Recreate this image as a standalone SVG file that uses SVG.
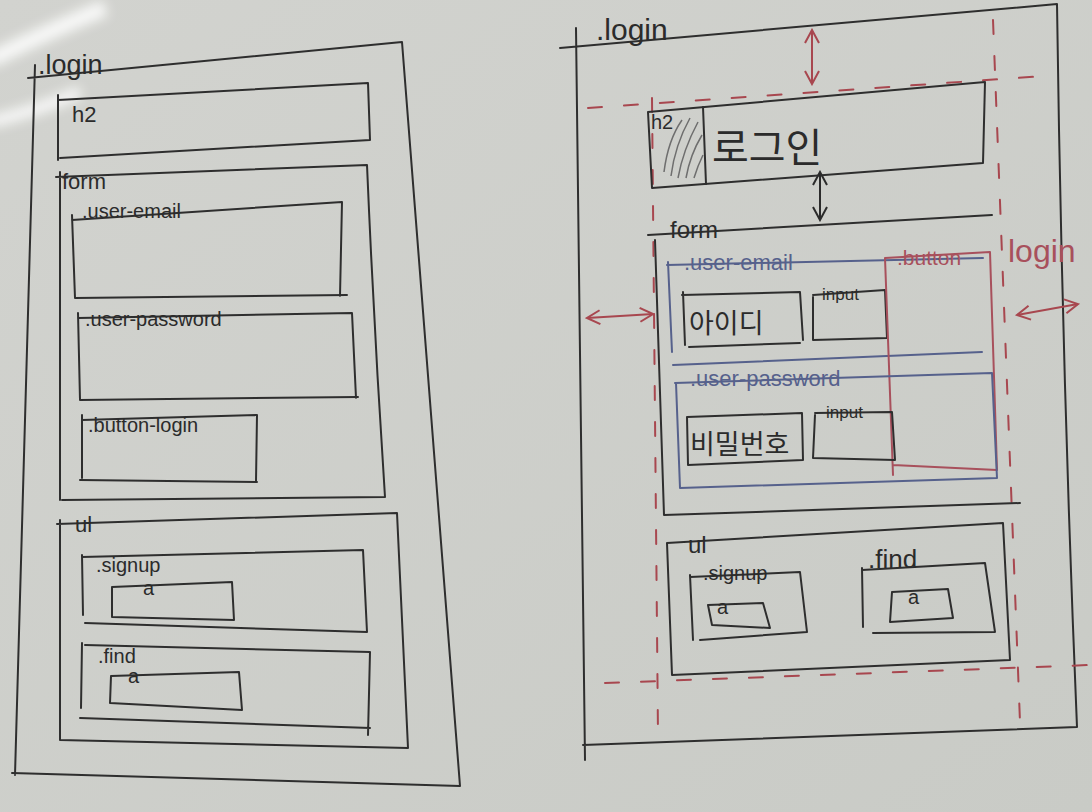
<svg xmlns="http://www.w3.org/2000/svg" width="1092" height="812" viewBox="0 0 1092 812">
<defs>
<linearGradient id="bg" x1="0" y1="0" x2="1" y2="1">
<stop offset="0" stop-color="#d2d3cf"/>
<stop offset="1" stop-color="#c9cbc6"/>
</linearGradient>
<filter id="blur" x="-20%" y="-50%" width="140%" height="200%"><feGaussianBlur stdDeviation="6"/></filter>
<marker id="arR" viewBox="0 0 16 16" refX="14" refY="8" markerWidth="16" markerHeight="16" orient="auto-start-reverse" markerUnits="userSpaceOnUse">
<path d="M1,1 L14,8 L1,15" fill="none" stroke="#a8474f" stroke-width="2"/>
</marker>
<marker id="arK" viewBox="0 0 16 16" refX="14" refY="8" markerWidth="16" markerHeight="16" orient="auto-start-reverse" markerUnits="userSpaceOnUse">
<path d="M1,1 L14,8 L1,15" fill="none" stroke="#2b2b2b" stroke-width="2"/>
</marker>
</defs>
<style>
.k{fill:none;stroke:#2e2e2e;stroke-width:2;stroke-linecap:round;stroke-linejoin:round}
.b{fill:none;stroke:#56618c;stroke-width:2;stroke-linecap:round;stroke-linejoin:round}
.r{fill:none;stroke:#a8505c;stroke-width:2;stroke-linecap:round;stroke-linejoin:round}
.d{fill:none;stroke:#a8474f;stroke-width:2;stroke-dasharray:14 22;stroke-linecap:round}
.t{font-family:"Liberation Sans","Noto Sans CJK KR",sans-serif;fill:#2b2b2b}
.tb{font-family:"Liberation Sans",sans-serif;fill:#56618c}
.tr{font-family:"Liberation Sans",sans-serif;fill:#a8505c}
</style>
<rect width="1092" height="812" fill="url(#bg)"/>
<g filter="url(#blur)" opacity="0.85">
<path d="M-10,60 Q40,35 105,8" stroke="#ffffff" stroke-width="16" fill="none"/>
<path d="M-10,122 Q40,110 80,92" stroke="#ffffff" stroke-width="12" fill="none"/>
</g>

<!-- LEFT SKETCH -->
<g id="left-login">
<path class="k" d="M28,78 L402,42 M35,65 L15,775 M12,773 L460,786 M402,42 Q430,400 460,786"/>
<text class="t" x="38" y="74" font-size="27">.login</text>
</g>
<g id="left-h2">
<path class="k" d="M58,100 L368,83 L370,140 L60,158 M58,95 L58,160"/>
<text class="t" x="72" y="122" font-size="22">h2</text>
</g>
<g id="left-form">
<path class="k" d="M56,177 L367,165 Q374,330 385,497 L62,500 M60,172 L60,500"/>
<text class="t" x="62" y="189" font-size="22">form</text>
</g>
<g id="left-user-email">
<path class="k" d="M72,220 L342,202 L340,296 M72,215 L75,298 L347,295"/>
<text class="t" x="82" y="218" font-size="20">.user-email</text>
</g>
<g id="left-user-password">
<path class="k" d="M78,318 L352,313 L356,398 M78,313 L80,400 L358,397"/>
<text class="t" x="85" y="326" font-size="20">.user-password</text>
</g>
<g id="left-button-login">
<path class="k" d="M82,420 L257,415 L256,481 M82,415 L82,478 M80,480 L257,482"/>
<text class="t" x="88" y="432" font-size="20">.button-login</text>
</g>
<g id="left-ul">
<path class="k" d="M57,524 L397,513 Q402,630 408,748 L60,740 M60,520 L60,740"/>
<text class="t" x="75" y="532" font-size="22">ul</text>
</g>
<g id="left-signup">
<path class="k" d="M82,557 L363,550 Q365,590 367,632 L85,623 M82,555 L83,615"/>
<text class="t" x="96" y="572" font-size="20">.signup</text>
<path class="k" d="M112,587 L232,582 L234,620 L112,617 L112,587"/>
<text class="t" x="143" y="595" font-size="20">a</text>
</g>
<g id="left-find">
<path class="k" d="M85,645 L370,652 L368,735 M82,643 L81,708 M80,718 L370,728"/>
<text class="t" x="98" y="663" font-size="20">.find</text>
<path class="k" d="M111,676 L239,672 L242,710 L110,703 L111,676"/>
<text class="t" x="128" y="683" font-size="20">a</text>
</g>

<!-- RIGHT SKETCH -->
<g id="right-login">
<path class="k" d="M560,48 L1057,4 Q1062,370 1077,727 L583,745 M576,28 L585,760"/>
<text class="t" x="596" y="40" font-size="30">.login</text>
</g>
<g id="margin-guides">
<path class="d" d="M588,108 L1045,76"/>
<path class="d" d="M652,98 L658,735"/>
<path class="d" d="M993,20 L1020,722"/>
<path class="d" d="M605,683 L1090,665"/>
</g>
<g id="right-h2">
<path class="k" d="M648,112 L985,82 L983,163 L652,188 L648,112"/>
<path class="k" d="M703,107 L706,184"/>
<path fill="none" stroke="#6e6e6e" stroke-width="1.5" d="M664,172 Q668,140 682,120 M671,176 Q675,145 690,118 M678,178 Q683,150 698,122 M686,178 Q690,155 702,135 M694,178 Q698,165 703,155"/>
<text class="t" x="651" y="129" font-size="20">h2</text>
<text class="t" x="712" y="162" font-size="40">로그인</text>
</g>
<g id="right-form">
<path class="k" d="M648,235 L992,215 M655,240 L664,515 L1020,503"/>
<text class="t" x="670" y="238" font-size="24">form</text>
</g>
<g id="right-user-email">
<path class="b" d="M667,265 L983,258 M668,262 L672,352 M673,365 L982,352"/>
<text class="tb" x="684" y="270" font-size="22">.user-email</text>
<path class="k" d="M682,295 L800,292 L803,340 M683,292 L685,345 M689,347 L800,343"/>
<text class="t" x="689" y="333" font-size="27">아이디</text>
<path class="k" d="M813,297 L813,340 L887,338 L885,290 L813,295"/>
<text class="t" x="822" y="300" font-size="17">input</text>
</g>
<g id="right-button-login">
<path class="r" d="M885,258 L893,475 M885,258 L990,252 L997,470 L893,465"/>
<text class="tr" x="897" y="265" font-size="21">.button</text>
<text class="tr" x="1008" y="262" font-size="32">login</text>
</g>
<g id="right-user-password">
<path class="b" d="M675,383 L992,373 L997,478 L680,488 L676,383"/>
<text class="tb" x="690" y="386" font-size="22">.user-password</text>
<path class="k" d="M687,417 L802,413 L803,460 L688,465 L687,417"/>
<text class="t" x="690" y="454" font-size="27">비밀번호</text>
<path class="k" d="M815,415 L813,458 L895,460 L892,412 L815,413"/>
<text class="t" x="826" y="418" font-size="17">input</text>
</g>
<g id="right-ul">
<path class="k" d="M667,543 L1003,523 L1010,660 L672,675 L667,543"/>
<text class="t" x="688" y="553" font-size="24">ul</text>
</g>
<g id="right-signup">
<path class="k" d="M690,577 L800,572 L807,632 L700,640 M690,575 L693,640"/>
<text class="t" x="703" y="580" font-size="20">.signup</text>
<path class="k" d="M708,605 L763,603 L770,628 L712,625 L708,605"/>
<text class="t" x="717" y="614" font-size="20">a</text>
</g>
<g id="right-find">
<path class="k" d="M862,570 L985,563 L995,632 L873,633 M862,568 L863,627"/>
<text class="t" x="868" y="568" font-size="26">.find</text>
<path class="k" d="M892,592 L948,589 L953,618 L890,622 L892,592"/>
<text class="t" x="908" y="604" font-size="20">a</text>
</g>
<g id="connectors">
<path fill="none" stroke="#a8474f" stroke-width="2" d="M812,30 L812,84" marker-start="url(#arR)" marker-end="url(#arR)"/>
<path fill="none" stroke="#2b2b2b" stroke-width="2" d="M820,172 L820,220" marker-start="url(#arK)" marker-end="url(#arK)"/>
<path fill="none" stroke="#a8474f" stroke-width="2" d="M587,318 L653,314" marker-start="url(#arR)" marker-end="url(#arR)"/>
<path fill="none" stroke="#a8474f" stroke-width="2" d="M1017,315 L1078,304" marker-start="url(#arR)" marker-end="url(#arR)"/>
</g>
</svg>
